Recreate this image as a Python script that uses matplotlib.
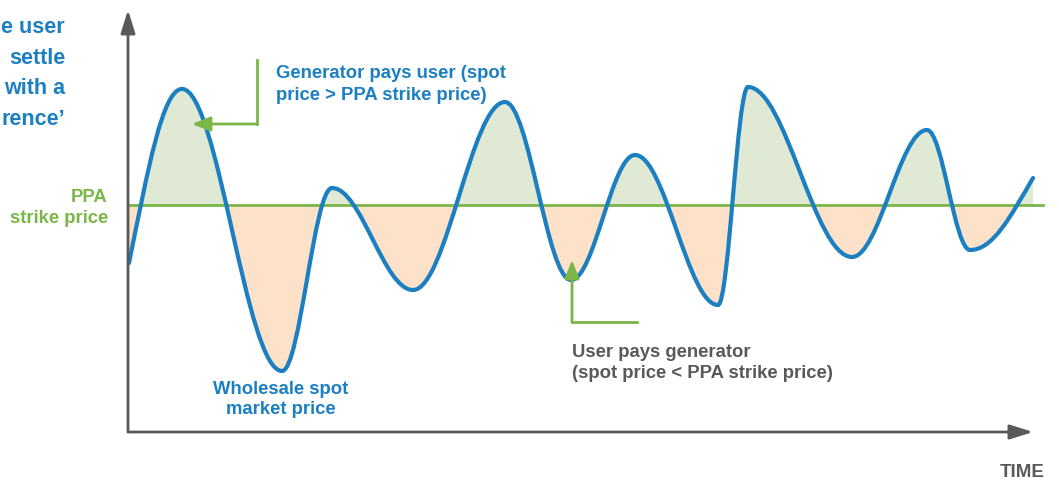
import matplotlib
matplotlib.use("Agg")
import matplotlib.pyplot as plt
import numpy as np
from matplotlib.path import Path
from matplotlib.patches import PathPatch, Rectangle

plt.rcParams['font.family'] = ['Liberation Sans', 'DejaVu Sans']

# spot price curve: its start, every peak and trough, and its end
time = [1, 54, 154, 204, 285, 377, 443, 507, 590, 620, 724, 799, 842, 905]
price = [169, 343, 61, 244, 142, 330, 152, 277, 127, 345, 175, 302, 182, 254]
strike = 227

blue = '#1b7fc1'
green = '#7ab648'
grey = '#58595b'

x = np.array(time, dtype=float)
y = np.array(price, dtype=float)

# flat tangents at peaks and troughs, steeper ones at the two open ends
m = np.zeros(len(x))
m[0] = 1.5 * (y[1] - y[0]) / (x[1] - x[0])
m[-1] = 1.5 * (y[-1] - y[-2]) / (x[-1] - x[-2])
k = 0.364  # handle length that makes each half wave close to a sine

verts = [(x[0], y[0])]
codes = [Path.MOVETO]
for i in range(len(x) - 1):
    h = x[i + 1] - x[i]
    verts += [(x[i] + k * h, y[i] + m[i] * k * h),
              (x[i + 1] - k * h, y[i + 1] - m[i + 1] * k * h),
              (x[i + 1], y[i + 1])]
    codes += [Path.CURVE4] * 3

fig = plt.figure(figsize=(10.59, 4.8), dpi=100)
ax = fig.add_axes([0, 0, 1, 1])
ax.set_xlim(-128, 931)
ax.set_ylim(-48, 432)
ax.axis('off')

# areas between the curve and the strike price
fill_verts = verts + [(x[-1], strike), (x[0], strike), (x[0], y[0])]
fill_codes = codes + [Path.LINETO, Path.LINETO, Path.CLOSEPOLY]
for col, rect in [('#dfe9d3', Rectangle((-200, strike), 2000, 1000)),
                  ('#fde1c9', Rectangle((-200, -1000), 2000, 1000 + strike))]:
    patch = PathPatch(Path(fill_verts, fill_codes), facecolor=col,
                      edgecolor='none', zorder=1)
    ax.add_patch(patch)
    rect.set_transform(ax.transData)
    patch.set_clip_path(rect)

ax.plot([0, 915], [strike, strike], color=green, lw=2, zorder=2)
ax.add_patch(PathPatch(Path(verts, codes), facecolor='none', edgecolor=blue,
                       lw=3, zorder=3, capstyle='round'))

# axes arrows
axis_arrow = dict(arrowstyle='-|>,head_length=0.7,head_width=0.22',
                  color=grey, lw=2, mutation_scale=20, shrinkA=0, shrinkB=0)
ax.annotate('', xy=(0, 422), xytext=(0, 0), arrowprops=axis_arrow)
ax.annotate('', xy=(905, 0), xytext=(0, 0), arrowprops=axis_arrow)

# green pointers
pointer = dict(arrowstyle='-|>,head_length=0.55,head_width=0.22',
               color=green, lw=2, mutation_scale=20, shrinkA=0, shrinkB=0)
ax.plot([129, 129], [372, 308], color=green, lw=2)
ax.annotate('', xy=(64, 308), xytext=(129, 308), arrowprops=pointer)
ax.plot([509, 444], [110, 110], color=green, lw=2)
ax.annotate('', xy=(444, 172), xytext=(444, 110), arrowprops=pointer)

# y values below are the baseline of each text's last line
ax.text(-63, 307, "e user\nsettle\nwith a\nrence\u2019", ha='right',
        va='baseline', color=blue, fontsize=15.5, fontweight='bold',
        linespacing=1.6)
ax.text(-20, 209, "PPA\nstrike price", ha='right', va='baseline',
        color=green, fontsize=13.3, fontweight='bold', linespacing=1.27)
ax.text(148, 332, "Generator pays user (spot\nprice > PPA strike price)",
        ha='left', va='baseline', color=blue, fontsize=13.3,
        fontweight='bold', linespacing=1.38)
ax.text(444, 54, "User pays generator\n(spot price < PPA strike price)",
        ha='left', va='baseline', color=grey, fontsize=13.3,
        fontweight='bold', linespacing=1.3)
ax.text(153, 18, "Wholesale spot\nmarket price", ha='center',
        va='baseline', color=blue, fontsize=13.3, fontweight='bold',
        linespacing=1.2)
ax.text(872, -45, "TIME", ha='left', va='baseline', color=grey,
        fontsize=13.5, fontweight='bold')

fig.savefig('out.png', dpi=100)
